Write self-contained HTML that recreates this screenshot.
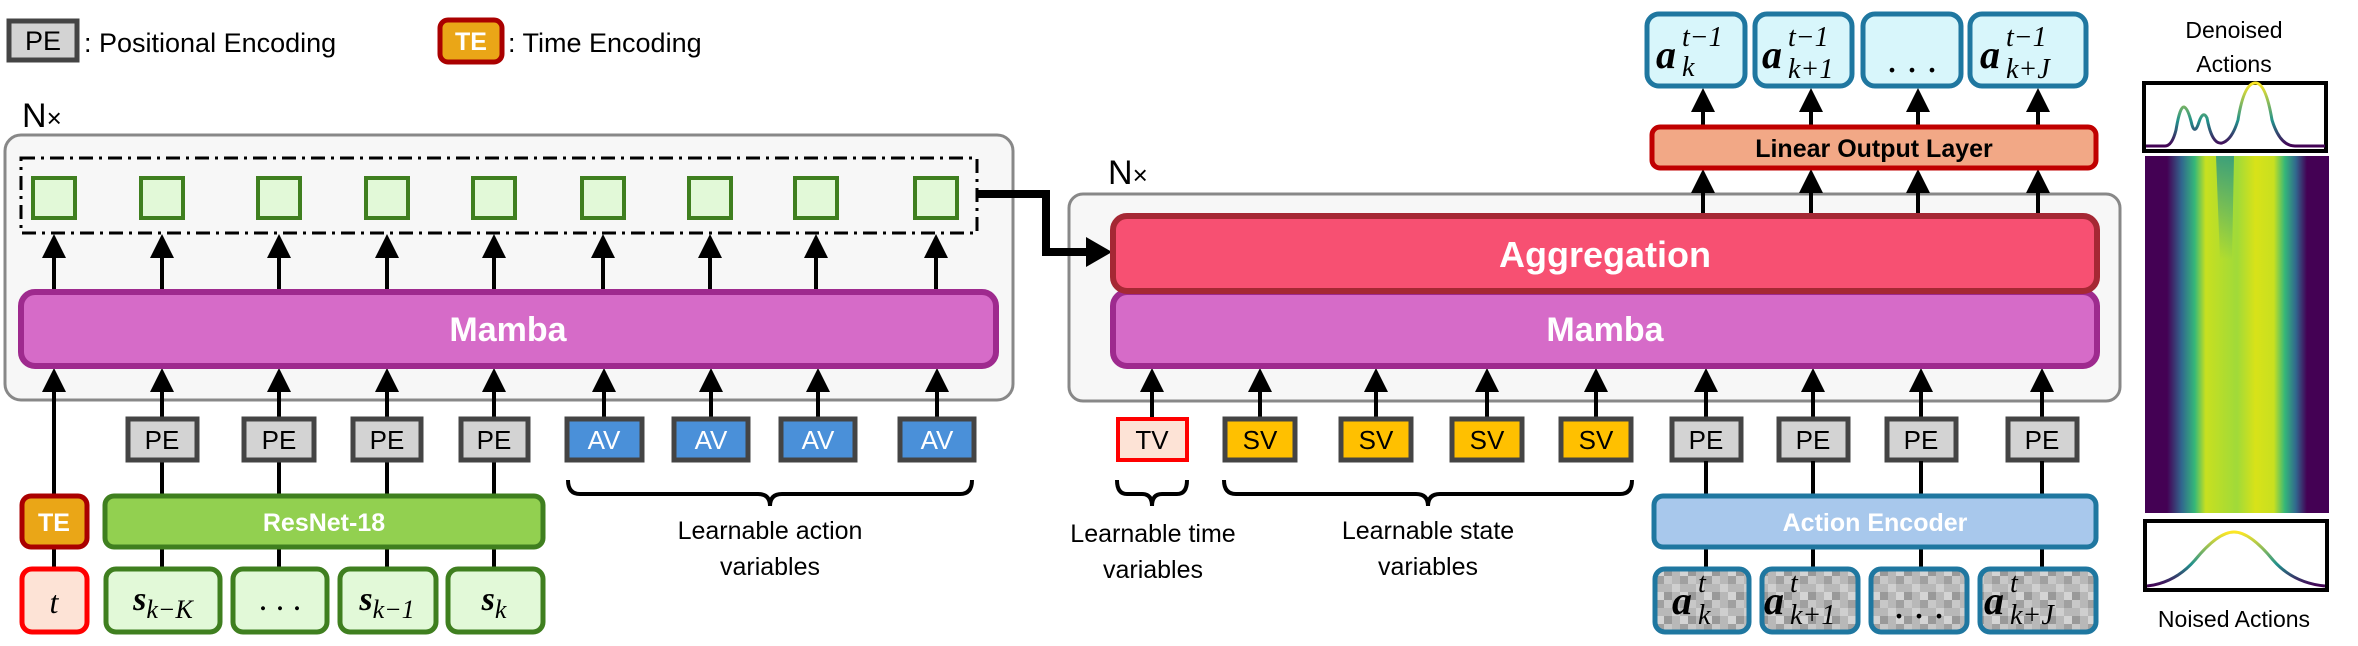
<!DOCTYPE html>
<html><head><meta charset="utf-8"><style>
html,body{margin:0;padding:0;background:#fff;}
svg{display:block;}
.t{font-family:"Liberation Sans",sans-serif;}
.m{font-family:"Liberation Serif",serif;font-style:italic;}
</style></head><body>
<svg width="2358" height="646" viewBox="0 0 2358 646" xmlns="http://www.w3.org/2000/svg">
<defs>
<marker id="ah" markerWidth="6" markerHeight="6" refX="5" refY="3" orient="auto" markerUnits="strokeWidth">
<path d="M0,0 L6,3 L0,6 z" fill="#000"/></marker>
<linearGradient id="vir" x1="0" x2="1" y1="0" y2="0">
<stop offset="0" stop-color="#440154"/><stop offset="0.12" stop-color="#440154"/>
<stop offset="0.2" stop-color="#31688e"/><stop offset="0.27" stop-color="#35b779"/>
<stop offset="0.33" stop-color="#c8e020"/><stop offset="0.5" stop-color="#a0da39"/>
<stop offset="0.6" stop-color="#d8e219"/><stop offset="0.7" stop-color="#c8e020"/>
<stop offset="0.76" stop-color="#35b779"/><stop offset="0.82" stop-color="#31688e"/>
<stop offset="0.88" stop-color="#440154"/><stop offset="1" stop-color="#440154"/>
</linearGradient>
<linearGradient id="fade" x1="0" x2="0" y1="0" y2="1">
<stop offset="0" stop-color="#21918c" stop-opacity="0.8"/><stop offset="1" stop-color="#21918c" stop-opacity="0"/>
</linearGradient>
<linearGradient id="cur" x1="0" x2="0" y1="1" y2="0">
<stop offset="0" stop-color="#440154"/><stop offset="0.4" stop-color="#21918c"/><stop offset="1" stop-color="#fde725"/>
</linearGradient>
<pattern id="noise" width="24" height="24" patternUnits="userSpaceOnUse">
<rect width="24" height="24" fill="#b8b8b8"/><rect width="8" height="8" fill="#a0a0a0"/><rect x="16" y="8" width="8" height="8" fill="#cfcfcf"/><rect x="8" y="16" width="8" height="8" fill="#999"/><rect x="8" y="0" width="8" height="8" fill="#c8c8c8"/><rect x="0" y="16" width="8" height="8" fill="#d4d4d4"/>
</pattern>
</defs>

<!-- legend -->
<rect x="9" y="21" width="68" height="39" fill="#d3d3d3" stroke="#444" stroke-width="5"/>
<text x="43" y="50" class="t" font-size="27" text-anchor="middle">PE</text>
<text x="84" y="52" class="t" font-size="27">: Positional Encoding</text>
<rect x="440" y="20" width="62" height="42" rx="8" fill="#eaa617" stroke="#a00" stroke-width="5"/>
<text x="471" y="50" class="t" font-size="25" font-weight="bold" fill="#fff" text-anchor="middle">TE</text>
<text x="508" y="52" class="t" font-size="27">: Time Encoding</text>

<!-- left block -->
<text x="22" y="127" class="t" font-size="34">N<tspan font-size="26">×</tspan></text>
<rect x="5" y="135" width="1008" height="265" rx="16" fill="#f7f7f7" stroke="#888" stroke-width="3"/>
<rect x="21" y="158" width="956" height="75" fill="none" stroke="#000" stroke-width="3" stroke-dasharray="14,6,3,6"/>
<g fill="#e2f9d8" stroke="#3f7f1f" stroke-width="4">
<rect x="33" y="178" width="42" height="40"/><rect x="141" y="178" width="42" height="40"/><rect x="258" y="178" width="42" height="40"/>
<rect x="366" y="178" width="42" height="40"/><rect x="473" y="178" width="42" height="40"/><rect x="582" y="178" width="42" height="40"/>
<rect x="689" y="178" width="42" height="40"/><rect x="795" y="178" width="42" height="40"/><rect x="915" y="178" width="42" height="40"/>
</g>
<g stroke="#000" stroke-width="4" marker-end="url(#ah)">
<line x1="54" y1="290" x2="54" y2="238"/><line x1="162" y1="290" x2="162" y2="238"/><line x1="279" y1="290" x2="279" y2="238"/>
<line x1="387" y1="290" x2="387" y2="238"/><line x1="494" y1="290" x2="494" y2="238"/><line x1="603" y1="290" x2="603" y2="238"/>
<line x1="710" y1="290" x2="710" y2="238"/><line x1="816" y1="290" x2="816" y2="238"/><line x1="936" y1="290" x2="936" y2="238"/>
<line x1="54" y1="494" x2="54" y2="372"/><line x1="162" y1="417" x2="162" y2="372"/><line x1="279" y1="417" x2="279" y2="372"/>
<line x1="387" y1="417" x2="387" y2="372"/><line x1="494" y1="417" x2="494" y2="372"/><line x1="604" y1="417" x2="604" y2="372"/>
<line x1="711" y1="417" x2="711" y2="372"/><line x1="818" y1="417" x2="818" y2="372"/><line x1="937" y1="417" x2="937" y2="372"/>
</g>
<g stroke="#000" stroke-width="4">
<line x1="162" y1="461" x2="162" y2="494"/><line x1="279" y1="461" x2="279" y2="494"/><line x1="387" y1="461" x2="387" y2="494"/><line x1="494" y1="461" x2="494" y2="494"/>
<line x1="54" y1="548" x2="54" y2="567"/><line x1="162" y1="548" x2="162" y2="567"/><line x1="279" y1="548" x2="279" y2="567"/><line x1="387" y1="548" x2="387" y2="567"/><line x1="494" y1="548" x2="494" y2="567"/>
</g>
<rect x="21" y="292" width="975" height="74" rx="14" fill="#d66bc8" stroke="#9e2a8e" stroke-width="6"/>
<text x="508" y="341" class="t" font-size="34" font-weight="bold" fill="#fff" text-anchor="middle">Mamba</text>

<g fill="#d3d3d3" stroke="#444" stroke-width="5">
<rect x="128" y="419" width="69" height="41"/><rect x="244" y="419" width="70" height="41"/><rect x="353" y="419" width="68" height="41"/><rect x="461" y="419" width="67" height="41"/>
</g>
<g class="t" font-size="26" text-anchor="middle"><text x="162" y="449">PE</text><text x="279" y="449">PE</text><text x="387" y="449">PE</text><text x="494" y="449">PE</text></g>
<g fill="#4a90d9" stroke="#444" stroke-width="5">
<rect x="567" y="419" width="75" height="41"/><rect x="674" y="419" width="74" height="41"/><rect x="781" y="419" width="74" height="41"/><rect x="900" y="419" width="74" height="41"/>
</g>
<g class="t" font-size="26" fill="#fff" text-anchor="middle"><text x="604" y="449">AV</text><text x="711" y="449">AV</text><text x="818" y="449">AV</text><text x="937" y="449">AV</text></g>
<path d="M568,480 q0,14 12,14 h178 q12,0 12,12 q0,-12 12,-12 h178 q12,0 12,-14" fill="none" stroke="#000" stroke-width="4"/>
<text x="770" y="539" class="t" font-size="25" text-anchor="middle">Learnable action</text>
<text x="770" y="575" class="t" font-size="25" text-anchor="middle">variables</text>

<rect x="22" y="496" width="65" height="51" rx="9" fill="#eaa617" stroke="#a00" stroke-width="5"/>
<text x="54" y="531" class="t" font-size="25" font-weight="bold" fill="#fff" text-anchor="middle">TE</text>
<rect x="105" y="496" width="438" height="51" rx="9" fill="#92d050" stroke="#3f7f1f" stroke-width="5"/>
<text x="324" y="531" class="t" font-size="25" font-weight="bold" fill="#fff" text-anchor="middle">ResNet-18</text>

<rect x="22" y="569" width="65" height="63" rx="10" fill="#fde3d6" stroke="#f00" stroke-width="5"/>
<text x="54" y="613" class="m" font-size="32" text-anchor="middle">t</text>
<g fill="#e2f9d8" stroke="#3f7f1f" stroke-width="5">
<rect x="106" y="569" width="114" height="63" rx="10"/><rect x="233" y="569" width="94" height="63" rx="10"/><rect x="340" y="569" width="96" height="63" rx="10"/><rect x="448" y="569" width="95" height="63" rx="10"/>
</g>
<g class="m" font-size="34" text-anchor="middle">
<text x="163" y="610"><tspan font-weight="bold">s</tspan><tspan font-size="26" dy="8">k−K</tspan></text>
<text x="280" y="610" font-style="normal">. . .</text>
<text x="387" y="610"><tspan font-weight="bold">s</tspan><tspan font-size="26" dy="8">k−1</tspan></text>
<text x="494" y="610"><tspan font-weight="bold">s</tspan><tspan font-size="26" dy="8">k</tspan></text>
</g>

<!-- right block -->
<text x="1108" y="184" class="t" font-size="34">N<tspan font-size="26">×</tspan></text>
<rect x="1069" y="194" width="1051" height="207" rx="14" fill="#f7f7f7" stroke="#888" stroke-width="3"/>

<!-- connector -->
<path d="M977,194 H1046 V252 H1088" fill="none" stroke="#000" stroke-width="8"/>
<path d="M1086,237 L1112,252 L1086,267 z" fill="#000"/>

<g stroke="#000" stroke-width="4" marker-end="url(#ah)">
<line x1="1152" y1="417" x2="1152" y2="372"/><line x1="1260" y1="417" x2="1260" y2="372"/><line x1="1376" y1="417" x2="1376" y2="372"/>
<line x1="1487" y1="417" x2="1487" y2="372"/><line x1="1596" y1="417" x2="1596" y2="372"/><line x1="1706" y1="417" x2="1706" y2="372"/>
<line x1="1813" y1="417" x2="1813" y2="372"/><line x1="1921" y1="417" x2="1921" y2="372"/><line x1="2042" y1="417" x2="2042" y2="372"/>
<line x1="1703" y1="215" x2="1703" y2="173"/><line x1="1811" y1="215" x2="1811" y2="173"/><line x1="1918" y1="215" x2="1918" y2="173"/><line x1="2038" y1="215" x2="2038" y2="173"/>
<line x1="1703" y1="126" x2="1703" y2="92"/><line x1="1811" y1="126" x2="1811" y2="92"/><line x1="1918" y1="126" x2="1918" y2="92"/><line x1="2038" y1="126" x2="2038" y2="92"/>
</g>
<rect x="1113" y="292" width="984" height="74" rx="14" fill="#d66bc8" stroke="#9e2a8e" stroke-width="6"/>
<text x="1605" y="341" class="t" font-size="34" font-weight="bold" fill="#fff" text-anchor="middle">Mamba</text>
<rect x="1113" y="216" width="984" height="75" rx="14" fill="#f75072" stroke="#a52834" stroke-width="6"/>
<text x="1605" y="267" class="t" font-size="36" font-weight="bold" fill="#fff" text-anchor="middle">Aggregation</text>

<rect x="1652" y="127" width="444" height="41" rx="8" fill="#f2a886" stroke="#c00000" stroke-width="5"/>
<text x="1874" y="157" class="t" font-size="25" font-weight="bold" text-anchor="middle">Linear Output Layer</text>

<g fill="#d8f6fb" stroke="#1f77a0" stroke-width="5">
<rect x="1647" y="14" width="98" height="72" rx="12"/><rect x="1755" y="14" width="97" height="72" rx="12"/><rect x="1863" y="14" width="98" height="72" rx="12"/><rect x="1970" y="14" width="116" height="72" rx="12"/>
</g>
<g class="m" font-size="40">
<text x="1656" y="68" font-weight="bold">a</text><text x="1682" y="46" font-size="28">t−1</text><text x="1682" y="76" font-size="28">k</text>
<text x="1762" y="68" font-weight="bold">a</text><text x="1788" y="46" font-size="28">t−1</text><text x="1788" y="78" font-size="28">k+1</text>
<text x="1912" y="72" font-style="normal" text-anchor="middle">. . .</text>
<text x="1980" y="68" font-weight="bold">a</text><text x="2006" y="46" font-size="28">t−1</text><text x="2006" y="78" font-size="28">k+J</text>
</g>

<rect x="1118" y="419" width="69" height="41" fill="#fde3d6" stroke="#f00" stroke-width="4"/>
<text x="1152" y="449" class="t" font-size="26" text-anchor="middle">TV</text>
<g fill="#ffc000" stroke="#444" stroke-width="5">
<rect x="1225" y="419" width="70" height="41"/><rect x="1341" y="419" width="70" height="41"/><rect x="1452" y="419" width="70" height="41"/><rect x="1561" y="419" width="70" height="41"/>
</g>
<g class="t" font-size="26" text-anchor="middle"><text x="1260" y="449">SV</text><text x="1376" y="449">SV</text><text x="1487" y="449">SV</text><text x="1596" y="449">SV</text></g>
<g fill="#d3d3d3" stroke="#444" stroke-width="5">
<rect x="1672" y="419" width="69" height="41"/><rect x="1779" y="419" width="69" height="41"/><rect x="1887" y="419" width="69" height="41"/><rect x="2008" y="419" width="69" height="41"/>
</g>
<g class="t" font-size="26" text-anchor="middle"><text x="1706" y="449">PE</text><text x="1813" y="449">PE</text><text x="1921" y="449">PE</text><text x="2042" y="449">PE</text></g>
<path d="M1117,480 q0,14 10,14 h15 q10,0 10,12 q0,-12 10,-12 h15 q10,0 10,-14" fill="none" stroke="#000" stroke-width="4"/>
<path d="M1224,480 q0,14 12,14 h180 q12,0 12,12 q0,-12 12,-12 h180 q12,0 12,-14" fill="none" stroke="#000" stroke-width="4"/>
<text x="1153" y="542" class="t" font-size="25" text-anchor="middle">Learnable time</text>
<text x="1153" y="578" class="t" font-size="25" text-anchor="middle">variables</text>
<text x="1428" y="539" class="t" font-size="25" text-anchor="middle">Learnable state</text>
<text x="1428" y="575" class="t" font-size="25" text-anchor="middle">variables</text>

<g stroke="#000" stroke-width="4">
<line x1="1706" y1="461" x2="1706" y2="494"/><line x1="1813" y1="461" x2="1813" y2="494"/><line x1="1921" y1="461" x2="1921" y2="494"/><line x1="2042" y1="461" x2="2042" y2="494"/>
<line x1="1706" y1="548" x2="1706" y2="567"/><line x1="1813" y1="548" x2="1813" y2="567"/><line x1="1921" y1="548" x2="1921" y2="567"/><line x1="2042" y1="548" x2="2042" y2="567"/>
</g>
<rect x="1654" y="496" width="442" height="51" rx="9" fill="#a8c8ec" stroke="#1f77a0" stroke-width="5"/>
<text x="1875" y="531" class="t" font-size="25" font-weight="bold" fill="#fff" text-anchor="middle">Action Encoder</text>
<g fill="url(#noise)" stroke="#1f77a0" stroke-width="5">
<rect x="1655" y="569" width="94" height="63" rx="10"/><rect x="1762" y="569" width="96" height="63" rx="10"/><rect x="1871" y="569" width="96" height="63" rx="10"/><rect x="1980" y="569" width="116" height="63" rx="10"/>
</g>
<g class="m" font-size="40">
<text x="1672" y="614" font-weight="bold">a</text><text x="1698" y="592" font-size="28">t</text><text x="1698" y="624" font-size="28">k</text>
<text x="1764" y="614" font-weight="bold">a</text><text x="1790" y="592" font-size="28">t</text><text x="1790" y="624" font-size="28">k+1</text>
<text x="1919" y="618" font-style="normal" text-anchor="middle">. . .</text>
<text x="1984" y="614" font-weight="bold">a</text><text x="2010" y="592" font-size="28">t</text><text x="2010" y="624" font-size="28">k+J</text>
</g>

<!-- right plots -->
<text x="2234" y="38" class="t" font-size="23" text-anchor="middle">Denoised</text>
<text x="2234" y="72" class="t" font-size="23" text-anchor="middle">Actions</text>
<rect x="2144" y="83" width="182" height="68" fill="#fff" stroke="#000" stroke-width="4"/>
<path d="M2146,146 L2165,146 Q2172,146 2176,130 Q2180,106 2184,107 Q2188,108 2192,125 Q2195,135 2199,122 Q2203,110 2207,118 Q2212,145 2222,143 Q2232,140 2238,120 Q2244,82 2256,83 Q2266,84 2272,120 Q2280,146 2295,146 L2325,146" fill="none" stroke="url(#cur)" stroke-width="3"/>
<rect x="2145" y="156" width="184" height="357" fill="url(#vir)"/>
<path d="M2216,156 L2234,156 L2232,260 L2220,260 z" fill="url(#fade)"/>
<rect x="2145" y="521" width="182" height="69" fill="#fff" stroke="#000" stroke-width="4"/>
<path d="M2147,586 Q2175,583 2195,560 Q2218,532 2234,532 Q2250,532 2273,560 Q2293,583 2325,586" fill="none" stroke="url(#cur)" stroke-width="3"/>
<text x="2234" y="627" class="t" font-size="23" text-anchor="middle">Noised Actions</text>
</svg>
</body></html>
